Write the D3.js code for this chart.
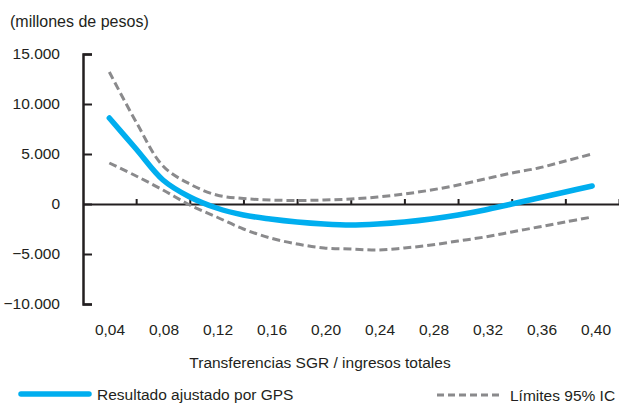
<!DOCTYPE html>
<html>
<head>
<meta charset="utf-8">
<script src="https://cdn.jsdelivr.net/npm/d3@7"></script>
<style>
  body { margin: 0; background: #fff; }
  text { font-family: "Liberation Sans", Arial, sans-serif; fill: #231f20; }
</style>
</head>
<body>
<script>
// x values (share of SGR transfers in total income)
var xVals = [0.04,0.06,0.08,0.10,0.12,0.14,0.16,0.18,0.20,0.22,0.24,0.26,0.28,0.30,0.32,0.34,0.36,0.38,0.40];
// fitted result (millions of pesos)
var fitted = [8600,5500,2400,700,-400,-1100,-1500,-1800,-2000,-2100,-2000,-1800,-1500,-1100,-600,0,600,1200,1800];
// 95% CI bounds
var upper = [13200,8200,3800,2000,900,550,400,350,400,500,700,1000,1400,1900,2500,3100,3600,4300,5000];
var lower = [4100,2800,1400,-100,-1300,-2500,-3400,-4000,-4400,-4500,-4600,-4400,-4100,-3700,-3300,-2800,-2300,-1800,-1300];
// axis labels
var xLabels = [0.04,0.08,0.12,0.16,0.20,0.24,0.28,0.32,0.36,0.40];
var xTickMarks = [0.06,0.10,0.14,0.18,0.22,0.26,0.30,0.34,0.38,0.42];
var yTicks = [15000,10000,5000,0,-5000,-10000];

var svg = d3.select("body").append("svg")
  .attr("width", 619)
  .attr("height", 404);

var x = d3.scaleLinear().domain([0.02, 0.42]).range([82.5, 619]);
var xLab = d3.scaleLinear().domain([0.04, 0.40]).range([110, 596]);
var y = d3.scaleLinear().domain([-10000, 15000]).range([304, 54]);

var fmtY = function(d) { return d3.format(",")(d).replace(/,/g, "."); };

// title
svg.append("text")
   .attr("x", 10)
   .attr("y", 27)
   .attr("font-size", 16)
   .text("(millones de pesos)");

// y axis
var yAxis = d3.axisLeft(y)
  .tickValues(yTicks)
  .tickSizeInner(-9)
  .tickSizeOuter(-9)
  .tickPadding(23)
  .tickFormat(fmtY);

var gy = svg.append("g")
  .attr("transform", "translate(83,0)")
  .call(yAxis);
gy.select(".domain").attr("stroke", "#231f20").attr("stroke-width", 2.5);
gy.selectAll(".tick line").attr("stroke", "#231f20").attr("stroke-width", 2);
gy.selectAll(".tick text")
  .attr("font-size", 15.5)
  .attr("font-family", "Liberation Sans, Arial, sans-serif")
  .attr("fill", "#231f20");

// x axis (line at zero, ticks upward)
var xAxis = d3.axisBottom(x)
  .tickValues(xTickMarks)
  .tickSizeInner(-5)
  .tickSizeOuter(0)
  .tickFormat("");

var gx = svg.append("g")
  .attr("transform", "translate(0," + y(0) + ")")
  .call(xAxis);
gx.select(".domain").attr("stroke", "#231f20").attr("stroke-width", 2.2);
gx.selectAll(".tick line").attr("stroke", "#231f20").attr("stroke-width", 2);

svg.selectAll("text.xlab")
   .data(xLabels)
   .enter().append("text")
     .attr("class", "xlab")
     .attr("x", d => xLab(d))
     .attr("y", 331)
     .attr("text-anchor", "middle")
     .attr("dominant-baseline", "middle")
     .attr("font-size", 15.5)
     .text(d => d.toFixed(2).replace(".", ","));

svg.append("text")
   .attr("x", 320)
   .attr("y", 368)
   .attr("text-anchor", "middle")
   .attr("font-size", 15.5)
   .text("Transferencias SGR / ingresos totales");

// lines
var line = function(vals) {
  return d3.line()
    .x((d, i) => x(xVals[i]))
    .y(d => y(d))
    .curve(d3.curveCatmullRom.alpha(0.5))(vals);
};

[upper, lower].forEach(function(s) {
  svg.append("path")
     .attr("d", line(s))
     .attr("fill", "none")
     .attr("stroke", "#8a8a8c")
     .attr("stroke-width", 3)
     .attr("stroke-dasharray", "8,4");
});

svg.append("path")
   .attr("d", line(fitted))
   .attr("fill", "none")
   .attr("stroke", "#00aeef")
   .attr("stroke-width", 5.5)
   .attr("stroke-linecap", "round");

// legend
svg.append("line")
   .attr("x1", 21).attr("x2", 89)
   .attr("y1", 394).attr("y2", 394)
   .attr("stroke", "#00aeef")
   .attr("stroke-width", 5.5)
   .attr("stroke-linecap", "round");
svg.append("text")
   .attr("x", 97).attr("y", 400)
   .attr("font-size", 15.5)
   .text("Resultado ajustado por GPS");

svg.append("line")
   .attr("x1", 437).attr("x2", 501)
   .attr("y1", 395).attr("y2", 395)
   .attr("stroke", "#8a8a8c")
   .attr("stroke-width", 3)
   .attr("stroke-dasharray", "7,4");
svg.append("text")
   .attr("x", 510).attr("y", 401)
   .attr("font-size", 15.5)
   .text("Límites 95% IC");
</script>
</body>
</html>
